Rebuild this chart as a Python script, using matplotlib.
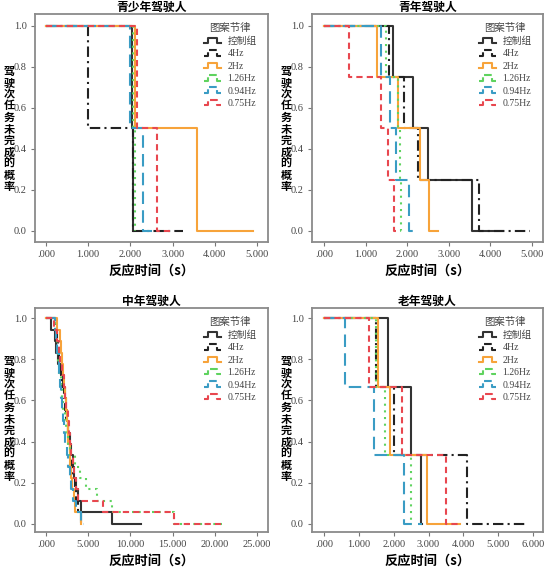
import numpy as np
import matplotlib.pyplot as plt
from matplotlib.legend_handler import HandlerBase
from matplotlib.lines import Line2D

plt.rcParams['font.family'] = ['Liberation Serif', 'Noto Sans CJK SC']
plt.rcParams['axes.unicode_minus'] = False

#%% Data
series = ['控制组', '4Hz', '2Hz', '1.26Hz', '0.94Hz', '0.75Hz']
colors = ['#333333', '#222222', '#f7a33a', '#5fd35f', '#3a9cc4', '#e8474f']
styles = ['-', (0, (5, 2, 1, 2)), '-', (0, (1, 2.2)), (0, (6, 3)), (0, (3, 2))]

teen_levels = [0.5, 0.0]
teen_times = [[2.03, 2.06], [1.00, 2.05], [2.11, 3.57],
              [2.05, 2.12], [1.99, 2.31], [2.15, 2.63]]
teen_end = [2.06, 3.25, 4.90, 2.12, 2.50, 2.95]

young_levels = [0.75, 0.5, 0.25, 0.0]
young_times = [[1.67, 2.15, 2.51, 3.57], [1.57, 1.93, 2.25, 3.73],
               [1.28, 1.79, 2.30, 2.53], [1.49, 1.79, 1.82, 1.85],
               [1.37, 1.59, 1.73, 2.05], [0.61, 1.36, 1.55, 1.69]]
young_end = [4.30, 4.96, 2.75, 1.87, 2.29, 1.72]

mid_levels = [0.944, 0.889, 0.833, 0.778, 0.722, 0.667, 0.611, 0.556, 0.5,
              0.444, 0.389, 0.333, 0.278, 0.222, 0.167, 0.111, 0.056, 0.0]
mid_times = [
    [0.55, 1.05, 1.20, 1.45, 1.80, 2.05, 2.20, 2.35, 2.50, 2.65, 2.85, 3.00, 3.15, 3.30, 3.55, 3.75, 4.20, 7.85],
    [1.20, 1.30, 1.45, 1.60, 1.80, 1.95, 2.10, 2.25, 2.40, 2.55, 2.70, 2.85, 3.00, 3.20, 3.40, 3.60, 3.85, 4.15],
    [1.35, 1.70, 1.80, 1.90, 2.00, 2.10, 2.20, 2.35, 2.45, 2.55, 2.65, 2.80, 2.90, 3.00, 3.10, 3.30, 3.45, 4.10],
    [1.10, 1.20, 1.30, 1.45, 1.60, 1.75, 1.90, 2.00, 2.20, 2.40, 2.60, 2.90, 3.40, 4.00, 4.70, 6.00, 7.80, 15.2],
    [1.10, 1.20, 1.35, 1.50, 1.60, 1.70, 1.80, 1.90, 2.00, 2.15, 2.30, 2.45, 2.60, 2.80, 3.00, 3.20, 3.50, 4.20],
    [1.00, 1.30, 1.50, 1.70, 1.90, 2.10, 2.25, 2.40, 2.55, 2.70, 2.85, 3.00, 3.15, 3.30, 3.60, 3.80, 6.70, 15.2],
]
mid_end = [11.3, 4.20, 4.20, 20.8, 4.50, 20.7]

old_levels = [0.667, 0.333, 0.0]
old_times = [[1.84, 2.51, 2.78], [1.48, 2.02, 4.10], [1.56, 1.89, 2.96],
             [1.49, 1.75, 2.51], [0.62, 1.44, 2.30], [1.29, 2.23, 3.50]]
old_end = [2.80, 5.81, 3.90, 2.53, 2.80, 3.90]

panels = [
    ('青少年驾驶人', teen_times, teen_levels, teen_end, [0, 1, 2, 3, 4, 5], (-0.26, 5.26)),
    ('青年驾驶人', young_times, young_levels, young_end, [0, 1, 2, 3, 4, 5], (-0.29, 5.27)),
    ('中年驾驶人', mid_times, mid_levels, mid_end, [0, 5, 10, 15, 20, 25], (-1.3, 26.3)),
    ('老年驾驶人', old_times, old_levels, old_end, [0, 1, 2, 3, 4, 5, 6], (-0.34, 6.28)),
]

# axes boxes in pixels: left, top, width, height
W, H = 550, 569
boxes = [(35, 14, 233, 228), (312, 14, 231, 228), (35, 308, 233, 224), (312, 308, 231, 224)]
ylims = [(-0.054, 1.058), (-0.054, 1.058), (-0.04, 1.05), (-0.04, 1.05)]
ylab_x = [9, 286, 9, 286]
ylab_y = [129, 129, 419, 419]


class StepHandler(HandlerBase):
    def create_artists(self, legend, orig_handle, xdescent, ydescent,
                       width, height, fontsize, trans):
        w, h = width, height
        xs = np.array([0, 0.25, 0.25, 0.75, 0.75, 1.0]) * w - xdescent
        ys = np.array([0.1, 0.1, 0.9, 0.9, 0.1, 0.1]) * h - ydescent
        line = Line2D(xs, ys, color=orig_handle.get_color(),
                      linestyle=orig_handle.get_linestyle(),
                      linewidth=orig_handle.get_linewidth(), transform=trans)
        return [line]


fig = plt.figure(figsize=(W / 100, H / 100), dpi=100)

for k, (title, times, levels, ends, xt, xl) in enumerate(panels):
    l, t, w, h = boxes[k]
    ax = fig.add_axes([l / W, 1 - (t + h) / H, w / W, h / H])
    handles = []
    for i in range(len(series)):
        x = np.r_[0, times[i], ends[i]]
        y = np.r_[1, levels, levels[-1]]
        ln, = ax.step(x, y, where='post', color=colors[i], linestyle=styles[i],
                      linewidth=1.5, label=series[i])
        handles.append(ln)
    ax.set_xlim(xl)
    ax.set_ylim(ylims[k])
    ax.set_xticks(xt)
    ax.set_xticklabels(['.000'] + ['%d.000' % v for v in xt[1:]])
    ax.set_yticks([0, 0.2, 0.4, 0.6, 0.8, 1.0])
    ax.set_yticklabels(['0.0', '0.2', '0.4', '0.6', '0.8', '1.0'])
    ax.tick_params(direction='out', length=3, width=0.8, color='#777777',
                   labelsize=7.5, labelcolor='#444444', pad=3)
    for s in ax.spines.values():
        s.set_color('#8a8a8a')
        s.set_linewidth(1.3)
    ax.set_title(title, fontsize=8.5, fontweight='bold', pad=1.2,
                 family=['Noto Sans CJK SC'])
    ax.set_xlabel('反应时间（s）', fontsize=9.5, fontweight='bold', labelpad=3,
                  family=['Noto Sans CJK SC'])
    leg = ax.legend(handles=handles, handler_map={Line2D: StepHandler()},
                    title='图案节律', loc='upper right', frameon=False,
                    fontsize=7, title_fontsize=7.5, handlelength=1.8,
                    handletextpad=0.6, labelspacing=0.35,
                    borderaxespad=0.3, bbox_to_anchor=(0.98, 0.99))
    for txt in leg.get_texts():
        txt.set_color('#444444')
    leg.get_title().set_color('#444444')
    fig.text(ylab_x[k] / W, 1 - ylab_y[k] / H, '\n'.join('驾驶次任务未完成的概率'),
             ha='center', va='center', fontsize=8, fontweight='bold',
             linespacing=0.85, family=['Noto Sans CJK SC'])

fig.savefig('out.png', dpi=100)
